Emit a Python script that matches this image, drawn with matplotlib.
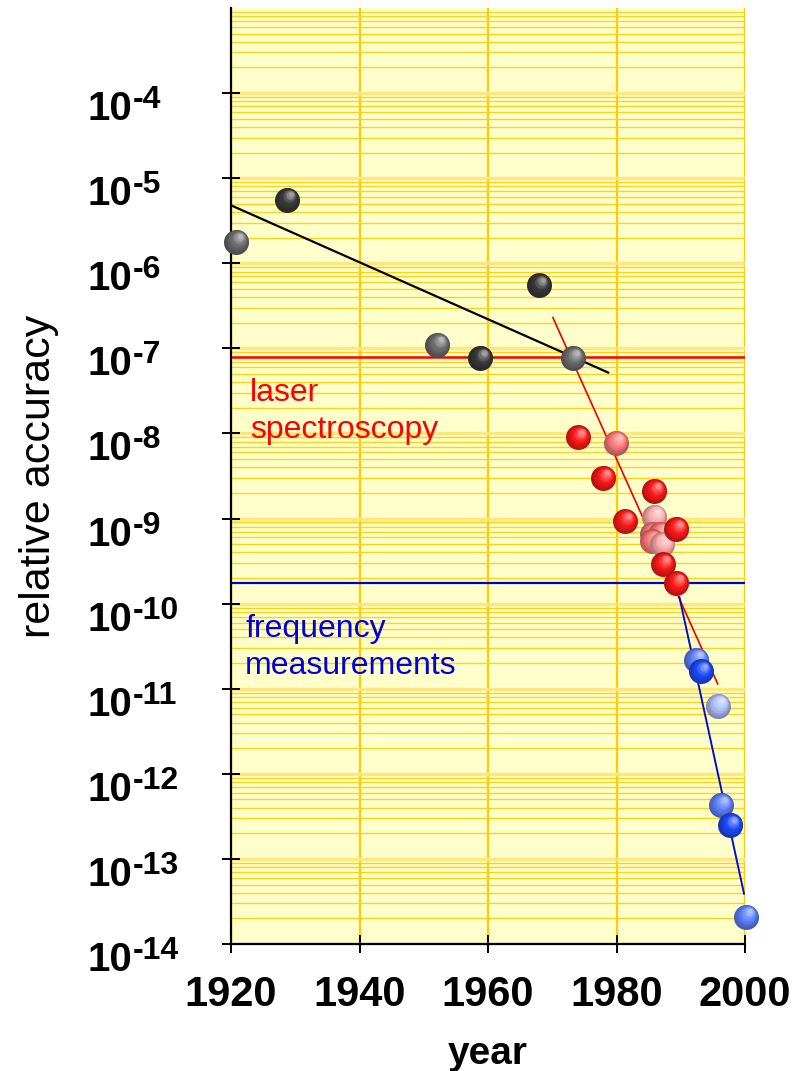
import matplotlib
matplotlib.use('Agg')
import matplotlib.pyplot as plt
import matplotlib.transforms as mtransforms
import numpy as np
from matplotlib.ticker import LogLocator, NullFormatter, FixedLocator

plt.rcParams['font.family'] = ['Liberation Sans', 'DejaVu Sans']

# early measurements (optical interferometry etc.)
old_years = [1920.8, 1928.7, 1952.1, 1958.8, 1967.9, 1973.2]
old_acc = [1.8e-6, 5.6e-6, 1.1e-7, 7.7e-8, 5.5e-7, 7.7e-8]
old_shade = ['gray', 'dark', 'gray', 'dark', 'dark', 'gray']

# laser spectroscopy results
laser_years = [1974.0, 1979.9, 1977.9, 1985.9, 1981.3, 1985.9, 1985.6, 1986.8,
               1985.5, 1987.1, 1989.3, 1987.2, 1989.3]
laser_acc = [9.0e-9, 7.8e-9, 3.0e-9, 2.1e-9, 9.3e-10, 1.05e-9, 6.6e-10, 6.6e-10,
             5.4e-10, 5.0e-10, 7.5e-10, 2.9e-10, 1.75e-10]
laser_shade = ['red', 'pink', 'red', 'red', 'red', 'light', 'pink', 'pink',
               'pink', 'light', 'red', 'red', 'red']

# optical frequency measurements
freq_years = [1992.4, 1993.1, 1995.75, 1996.2, 1997.7, 2000.1]
freq_acc = [2.2e-11, 1.6e-11, 6.3e-12, 4.3e-13, 2.5e-13, 2.1e-14]
freq_shade = ['mid', 'strong', 'light', 'mid', 'strong', 'mid']

# trend lines (end points)
old_fit_years = [1920, 1978.7]
old_fit_acc = [4.8e-6, 5.2e-8]
laser_fit_years = [1970.1, 1995.75]
laser_fit_acc = [2.3e-7, 1.14e-11]
freq_fit_years = [1989.8, 1999.85]
freq_fit_acc = [1.19e-10, 3.9e-14]

# thresholds where the new techniques took over
laser_level = 7.9e-8
freq_level = 1.75e-10

y_exponents = list(range(-14, -3))
x_ticks = [1920, 1940, 1960, 1980, 2000]

palette = {
    'gray': '#6e6e6e', 'dark': '#3a3a3a',
    'red': '#ff1a1a', 'pink': '#ff7a7a', 'light': '#ffb0b0',
}
blue_palette = {'strong': '#1f4bff', 'mid': '#5f82ff', 'light': '#b0c0ff'}

fig = plt.figure(figsize=(8, 10.71), dpi=100)
ax = fig.add_axes([231 / 800, 127 / 1071, 514 / 800, 936 / 1071])
ax.set_facecolor('#ffffcc')
ax.set_yscale('log')
ax.set_xlim(1920, 2000)
ax.set_ylim(1e-14, 1e-3)

# grid
ax.set_axisbelow(True)
ax.yaxis.set_major_locator(FixedLocator([10.0 ** e for e in y_exponents]))
ax.yaxis.set_minor_locator(LogLocator(base=10, subs=np.arange(2, 10), numticks=30))
ax.yaxis.set_major_formatter(NullFormatter())
ax.yaxis.set_minor_formatter(NullFormatter())
ax.grid(which='minor', axis='y', color='#ffd21a', lw=1.0)
ax.grid(which='major', axis='y', color='#ffe680', lw=2.5)
ax.set_xticks(x_ticks)
ax.grid(which='major', axis='x', color='#ffcc00', lw=1.6)

for side in ['top', 'right']:
    ax.spines[side].set_visible(False)
for side in ['left', 'bottom']:
    ax.spines[side].set_linewidth(1.6)

ax.tick_params(which='major', direction='inout', length=13, width=1.4, color='black')
ax.tick_params(which='minor', length=0)
ax.tick_params(axis='x', labelsize=30, pad=16)
for lab in ax.get_xticklabels():
    lab.set_fontweight('bold')

# y tick labels as 10 with a raised exponent
base_tr = mtransforms.blended_transform_factory(ax.transAxes, ax.transData)
for e in y_exponents:
    t10 = base_tr + mtransforms.ScaledTranslation(-0.99, -0.27, fig.dpi_scale_trans)
    tsup = base_tr + mtransforms.ScaledTranslation(-0.985, -0.15, fig.dpi_scale_trans)
    ax.text(0, 10.0 ** e, '10', transform=t10, ha='right', va='baseline',
            fontsize=29, fontweight='bold')
    ax.text(0, 10.0 ** e, '-%d' % (-e), transform=tsup, ha='left', va='baseline',
            fontsize=23, fontweight='bold')

ax.set_xlabel('year', fontsize=28, fontweight='bold', labelpad=15)
ax.set_ylabel('relative accuracy', fontsize=31)
ax.yaxis.set_label_coords(-0.334, 0.5)

# horizontal levels and trend lines
ax.axhline(laser_level, color='#ff0000', lw=1.8, zorder=2)
ax.axhline(freq_level, color='#0000cc', lw=1.6, zorder=2)
ax.plot(old_fit_years, old_fit_acc, color='black', lw=1.6, zorder=3)
ax.plot(laser_fit_years, laser_fit_acc, color='#ee0000', lw=1.2, zorder=3)
ax.plot(freq_fit_years, freq_fit_acc, color='#0010cc', lw=1.4, zorder=3)


def mix(c1, c2, t):
    c1 = np.array(matplotlib.colors.to_rgb(c1))
    c2 = np.array(matplotlib.colors.to_rgb(c2))
    return tuple(c1 * (1 - t) + c2 * t)


def sphere(x, y, color, z, size=18.0):
    # stacked discs shifted toward the upper right give a shaded ball
    n = 9
    for i in range(n):
        t = i / (n - 1)
        d = size * (1 - 0.8 * t)
        if t < 0.5:
            c = mix(mix(color, 'black', 0.3), color, t / 0.5)
        else:
            c = mix(color, 'white', 0.5 * (t - 0.5) / 0.5)
        off = mtransforms.ScaledTranslation(0.16 * size * t / 72, 0.22 * size * t / 72,
                                            fig.dpi_scale_trans)
        ax.scatter([x], [y], s=d ** 2, color=c, linewidths=0,
                   transform=ax.transData + off, zorder=z, clip_on=False)


z = 5
for xs, ys, shades, pal in [(old_years, old_acc, old_shade, palette),
                            (laser_years, laser_acc, laser_shade, palette),
                            (freq_years, freq_acc, freq_shade, blue_palette)]:
    for x, y, s in zip(xs, ys, shades):
        sphere(x, y, pal[s], z)
        z += 0.01

# labels for the two regimes
ax.text(1923.0, 2.4e-8, 'laser', color='#ff0000', fontsize=23, va='baseline')
ax.text(1923.0, 8.8e-9, 'spectroscopy', color='#ff0000', fontsize=23, va='baseline')
ax.text(1922.2, 4.1e-11, 'frequency', color='#0000dd', fontsize=23, va='baseline')
ax.text(1922.2, 1.48e-11, 'measurements', color='#0000dd', fontsize=23, va='baseline')

fig.savefig('out.png', dpi=100)
